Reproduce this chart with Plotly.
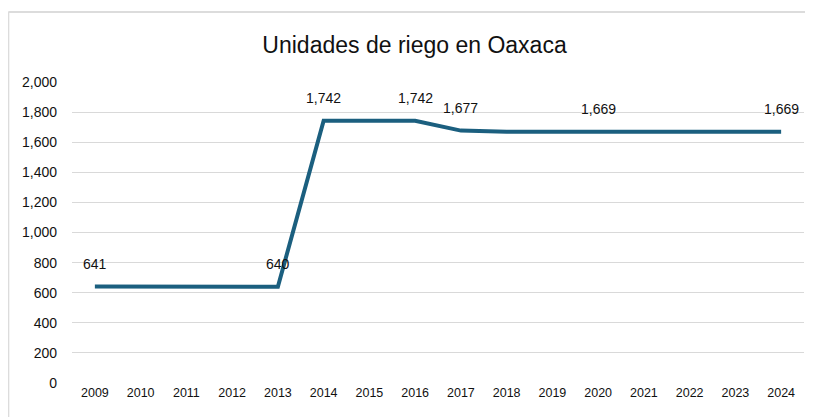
import plotly.graph_objects as go

years = [str(y) for y in range(2009, 2025)]
unidades = [641, 641, 641, 641, 640, 1742, 1742, 1742, 1677, 1669, 1669, 1669, 1669, 1669, 1669, 1669]
label_years = ["2009", "2013", "2014", "2016", "2017", "2020", "2024"]

fig = go.Figure()
fig.add_trace(go.Scatter(x=years, y=unidades, mode="lines",
                         line=dict(color="#1b5f7f", width=4), hoverinfo="x+y"))

for yr in label_years:
    i = years.index(yr)
    v = unidades[i]
    fig.add_annotation(x=i, y=v, xref="x", yref="y", text=f"{v:,}", showarrow=False, yshift=23,
                       font=dict(size=14, color="#111111", family="Liberation Sans, Arial"))

# page body has an 8px margin, so the figure is drawn 8px in from the top-left
fig.update_layout(
    width=805, height=409,
    margin=dict(l=64, r=9, t=74, b=34),
    paper_bgcolor="white", plot_bgcolor="white",
    showlegend=False,
    title=dict(text="Unidades de riego en Oaxaca", x=0.505, xanchor="center", y=0.91, yanchor="middle",
               font=dict(size=23, color="#111111", family="Liberation Sans Narrow, Arial Narrow, Liberation Sans")),
    xaxis=dict(type="category", range=[-0.5, 15.5], showgrid=False, showline=False, zeroline=False,
               automargin=False,
               tickfont=dict(size=12.5, color="#111111", family="Liberation Sans Narrow, Liberation Sans"), ticks=""),
    yaxis=dict(range=[0, 2000], dtick=200, tickformat=",", showgrid=True, gridcolor="#d9d9d9", gridwidth=1.3,
               zeroline=False, showline=False, ticklabelstandoff=14, automargin=False,
               tickfont=dict(size=14, color="#111111", family="Liberation Sans, Arial")),
    shapes=[
        dict(type="line", xref="paper", yref="paper", x0=-0.087, x1=1.02, y0=1.2326, y1=1.2326,
             line=dict(color="#dcdcdc", width=2)),
        dict(type="line", xref="paper", yref="paper", x0=-0.087, x1=-0.087, y0=1.2326, y1=-0.2,
             line=dict(color="#dcdcdc", width=2)),
    ],
)

fig.write_html("out.html")
